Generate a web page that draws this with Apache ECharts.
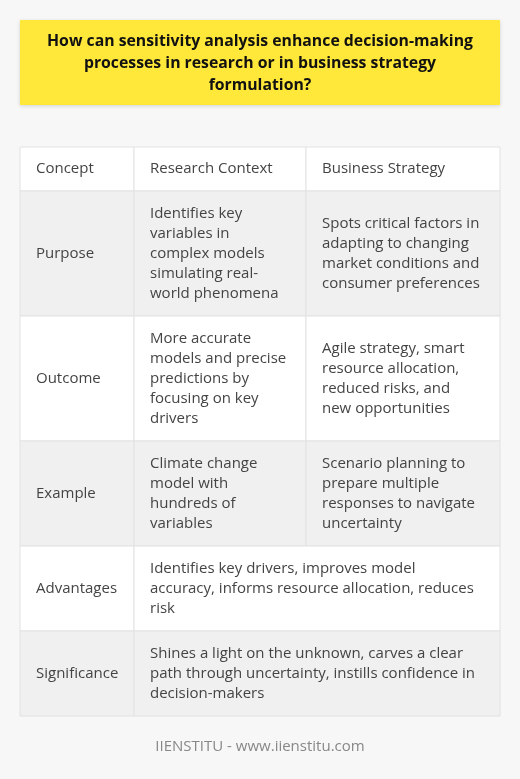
<!DOCTYPE html>
<html><head><meta charset="utf-8">
<script src="https://cdn.jsdelivr.net/npm/echarts@6/dist/echarts.min.js"></script>
<style>html,body{margin:0;padding:0;background:#f7f7f7}#c{width:520px;height:779px}</style>
</head><body><div id="c"></div>
<script>
const title = "How can sensitivity analysis enhance decision-making\nprocesses in research or in business strategy\nformulation?";
const headers = ["Concept", "Research Context", "Business Strategy"];
const concepts = ["Purpose", "Outcome", "Example", "Advantages", "Significance"];
const research = [
  "Identifies key\nvariables in\ncomplex models\nsimulating real-\nworld phenomena",
  "More accurate\nmodels and precise\npredictions by\nfocusing on key\ndrivers",
  "Climate change\nmodel with\nhundreds of\nvariables",
  "Identifies key drivers, improves model\naccuracy, informs resource allocation, reduces\nrisk",
  "Shines a light on the unknown, carves a clear\npath through uncertainty, instills confidence in\ndecision-makers"
];
const business = [
  "Spots critical factors in\nadapting to changing\nmarket conditions and\nconsumer preferences",
  "Agile strategy, smart\nresource allocation,\nreduced risks, and\nnew opportunities",
  "Scenario planning to\nprepare multiple\nresponses to navigate\nuncertainty",
  null, null
];
const footer = "IIENSTITU - www.iienstitu.com";

const colX = [20, 134, 306, 500];
const rowY = [147, 191, 316, 441, 546, 631, 716];
const font = "'Open Sans', sans-serif";
const els = [];
els.push({type:'rect', shape:{x:20,y:20,width:480,height:85}, style:{fill:'#ffe83a', shadowBlur:4, shadowColor:'rgba(0,0,0,0.15)', shadowOffsetY:1}});
els.push({type:'text', x:260, y:63, style:{text:title, font:"bold 15.8px "+font, fill:'#111', align:'center', verticalAlign:'middle', lineHeight:22}});
function cell(r, c0, c1, txt, bg){
  const y0=rowY[r], y1=rowY[r+1];
  els.push({type:'rect', shape:{x:colX[c0],y:y0,width:colX[c1]-colX[c0],height:y1-y0}, style:{fill:bg, stroke:'#e2e2e2', lineWidth:1}});
  if(txt) els.push({type:'text', x:colX[c0]+16, y:(y0+y1)/2, style:{text:txt, font:"15px "+font, fill:'#444', verticalAlign:'middle', lineHeight:20}});
}
headers.forEach((h,i)=>cell(0,i,i+1,h,'#ffffff'));
concepts.forEach((c,i)=>{
  const bg = i%2===0 ? '#f0f0f0' : '#ffffff';
  cell(i+1,0,1,c,bg);
  if(business[i]===null){ cell(i+1,1,3,research[i],bg); }
  else { cell(i+1,1,2,research[i],bg); cell(i+1,2,3,business[i],bg); }
});
els.push({type:'text', x:260, y:747, style:{text:footer, font:"15px "+font, fill:'#888', align:'center', verticalAlign:'middle'}});
const chart = echarts.init(document.getElementById('c'));
chart.setOption({backgroundColor:'#f7f7f7', graphic:{elements:els}});
</script></body></html>
